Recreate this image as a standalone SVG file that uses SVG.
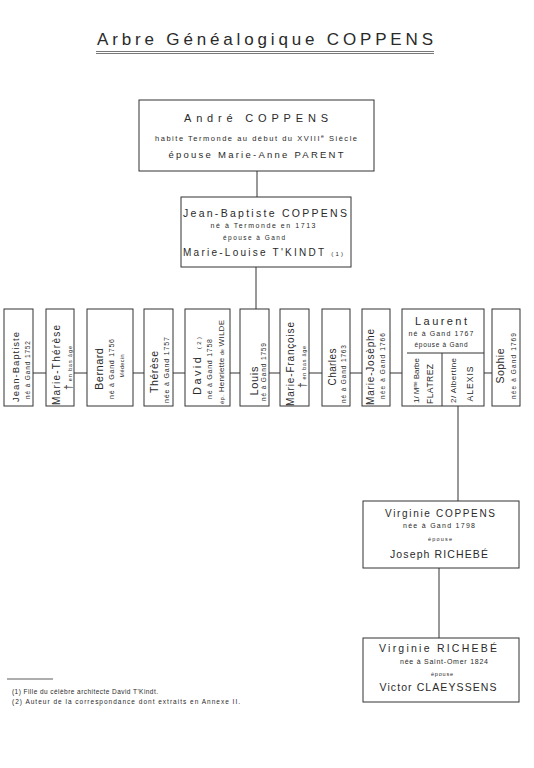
<svg xmlns="http://www.w3.org/2000/svg" width="534" height="768" viewBox="0 0 534 768">
<style>
text{font-family:"Liberation Sans","DejaVu Sans",Arial,sans-serif;fill:#2a2a2a}
.box{fill:#fff;stroke:#333;stroke-width:1}
.ln{stroke:#333;stroke-width:1;fill:none}
.m{text-anchor:middle}
</style>
<rect width="534" height="768" fill="#fff"/>
<g id="title">
<text x="97" y="45" font-size="17" textLength="336" lengthAdjust="spacing">Arbre Généalogique COPPENS</text>
<line x1="96" y1="51.5" x2="434" y2="51.5" stroke="#555" stroke-width="0.8"/>
<line x1="96" y1="53.5" x2="434" y2="53.5" stroke="#555" stroke-width="0.8"/>
</g>
<g id="connectors">
<line class="ln" x1="257" y1="171" x2="257" y2="197"/>
<line class="ln" x1="256" y1="267" x2="256" y2="309"/>
<line class="ln" x1="33" y1="373" x2="46" y2="373"/>
<line class="ln" x1="74" y1="373" x2="87" y2="373"/>
<line class="ln" x1="133" y1="373" x2="144" y2="373"/>
<line class="ln" x1="173" y1="373" x2="185" y2="373"/>
<line class="ln" x1="230" y1="373" x2="240" y2="373"/>
<line class="ln" x1="269" y1="373" x2="280" y2="373"/>
<line class="ln" x1="309" y1="373" x2="322" y2="373"/>
<line class="ln" x1="350" y1="373" x2="362" y2="373"/>
<line class="ln" x1="390" y1="373" x2="402" y2="373"/>
<line class="ln" x1="484" y1="373" x2="492" y2="373"/>
<line class="ln" x1="458" y1="406" x2="458" y2="501"/>
<line class="ln" x1="439" y1="568" x2="439" y2="638"/>
</g>
<g id="andre">
<rect class="box" x="139" y="100" width="235" height="71"/>
<text class="m" x="256" y="122" font-size="11" textLength="144" lengthAdjust="spacing">André COPPENS</text>
<text class="m" x="256" y="141" font-size="7.5" textLength="202" lengthAdjust="spacing">habite Termonde au début du XVIII<tspan font-size="5" dy="-3">e</tspan><tspan dy="3"> Siècle</tspan></text>
<text class="m" x="256" y="158" font-size="9.5" textLength="175" lengthAdjust="spacing">épouse Marie-Anne PARENT</text>
</g>
<g id="jeanbaptiste">
<rect class="box" x="181" y="197" width="170" height="70"/>
<text class="m" x="265" y="217" font-size="10.5" textLength="164" lengthAdjust="spacing">Jean-Baptiste COPPENS</text>
<text class="m" x="263" y="228" font-size="7" textLength="105" lengthAdjust="spacing">né à Termonde en 1713</text>
<text class="m" x="254" y="240" font-size="6.5" textLength="62" lengthAdjust="spacing">épouse à Gand</text>
<text x="183" y="256" font-size="10" textLength="160" lengthAdjust="spacing">Marie-Louise T'KINDT <tspan font-size="6">(1)</tspan></text>
</g>
<g id="c1">
<rect class="box" x="4" y="309" width="29" height="97"/>
<text class="m" transform="translate(19,367) rotate(-90)" font-size="9.5" textLength="70" lengthAdjust="spacing">Jean-Baptiste</text>
<text class="m" transform="translate(30,370) rotate(-90)" font-size="6.5" textLength="58" lengthAdjust="spacing">né à Gand 1752</text>
</g>
<g id="c2">
<rect class="box" x="46" y="309" width="28" height="97"/>
<text class="m" transform="translate(60,365) rotate(-90)" font-size="10" textLength="80" lengthAdjust="spacing">Marie-Thérèse</text>
<text class="m" transform="translate(72,368) rotate(-90)" font-size="5.5" textLength="44" lengthAdjust="spacing"><tspan font-size="10">†</tspan> en bas âge</text>
</g>
<g id="c3">
<rect class="box" x="87" y="309" width="46" height="97"/>
<text class="m" transform="translate(103,369) rotate(-90)" font-size="11" textLength="42" lengthAdjust="spacing">Bernard</text>
<text class="m" transform="translate(114,369) rotate(-90)" font-size="7" textLength="60" lengthAdjust="spacing">né à Gand 1756</text>
<text class="m" transform="translate(124,366) rotate(-90)" font-size="5.5" textLength="23" lengthAdjust="spacing">Médecin</text>
</g>
<g id="c4">
<rect class="box" x="144" y="309" width="29" height="97"/>
<text class="m" transform="translate(158,372) rotate(-90)" font-size="10.5" textLength="42" lengthAdjust="spacing">Thérèse</text>
<text class="m" transform="translate(169,370) rotate(-90)" font-size="7" textLength="66" lengthAdjust="spacing">née à Gand 1757</text>
</g>
<g id="c5">
<rect class="box" x="185" y="309" width="45" height="97"/>
<text class="m" transform="translate(201,366) rotate(-90)" font-size="11" textLength="58" lengthAdjust="spacing">David <tspan font-size="6">(2)</tspan></text>
<text class="m" transform="translate(212,369) rotate(-90)" font-size="7" textLength="60" lengthAdjust="spacing">né à Gand 1758</text>
<text class="m" transform="translate(224,362) rotate(-90)" font-size="8" textLength="84" lengthAdjust="spacing"><tspan font-size="6">ép.</tspan> Henriette <tspan font-size="5">de</tspan> WILDE</text>
</g>
<g id="c6">
<rect class="box" x="240" y="309" width="29" height="97"/>
<text class="m" transform="translate(258,381) rotate(-90)" font-size="11" textLength="29" lengthAdjust="spacing">Louis</text>
<text class="m" transform="translate(266,372) rotate(-90)" font-size="6.5" textLength="58" lengthAdjust="spacing">né à Gand 1759</text>
</g>
<g id="c7">
<rect class="box" x="280" y="309" width="29" height="97"/>
<text class="m" transform="translate(294,364) rotate(-90)" font-size="10" textLength="84" lengthAdjust="spacing">Marie-Françoise</text>
<text class="m" transform="translate(306,367) rotate(-90)" font-size="5.5" textLength="42" lengthAdjust="spacing"><tspan font-size="10">†</tspan> en bas âge</text>
</g>
<g id="c8">
<rect class="box" x="322" y="309" width="28" height="97"/>
<text class="m" transform="translate(336,367) rotate(-90)" font-size="10" textLength="37" lengthAdjust="spacing">Charles</text>
<text class="m" transform="translate(346,374) rotate(-90)" font-size="6.5" textLength="58" lengthAdjust="spacing">né à Gand 1763</text>
</g>
<g id="c9">
<rect class="box" x="362" y="309" width="28" height="97"/>
<text class="m" transform="translate(374,367) rotate(-90)" font-size="10" textLength="76" lengthAdjust="spacing">Marie-Josèphe</text>
<text class="m" transform="translate(385,366) rotate(-90)" font-size="6.5" textLength="66" lengthAdjust="spacing">née à Gand 1766</text>
</g>
<g id="c10">
<rect class="box" x="402" y="309" width="82" height="97"/>
<text class="m" x="441" y="325" font-size="11" textLength="52" lengthAdjust="spacing">Laurent</text>
<text class="m" x="441" y="336" font-size="7" textLength="65" lengthAdjust="spacing">né à Gand 1767</text>
<text class="m" x="441" y="347" font-size="6.5" textLength="53" lengthAdjust="spacing">épouse à Gand</text>
<line class="ln" x1="407" y1="353" x2="484" y2="353"/>
<line class="ln" x1="442" y1="353" x2="442" y2="406"/>
<text transform="translate(419,403) rotate(-90)" font-size="8" textLength="45" lengthAdjust="spacing">1/ M<tspan font-size="4.5" dy="-2.5">me</tspan><tspan dy="2.5"> Barbe</tspan></text>
<text class="m" transform="translate(433,384) rotate(-90)" font-size="8.5" textLength="40" lengthAdjust="spacing">FLATREZ</text>
<text transform="translate(456,403) rotate(-90)" font-size="8" textLength="45" lengthAdjust="spacing">2/ Albertine</text>
<text class="m" transform="translate(473,384) rotate(-90)" font-size="8.5" textLength="35" lengthAdjust="spacing">ALEXIS</text>
</g>
<g id="c11">
<rect class="box" x="492" y="309" width="28" height="97"/>
<text class="m" transform="translate(504,366) rotate(-90)" font-size="10.5" textLength="35" lengthAdjust="spacing">Sophie</text>
<text class="m" transform="translate(516,366) rotate(-90)" font-size="6.5" textLength="66" lengthAdjust="spacing">née à Gand 1769</text>
</g>
<g id="virginie1">
<rect class="box" x="363" y="501" width="156" height="67"/>
<text class="m" x="440" y="517" font-size="10" textLength="110" lengthAdjust="spacing">Virginie COPPENS</text>
<text class="m" x="439" y="528" font-size="7" textLength="72" lengthAdjust="spacing">née à Gand 1798</text>
<text class="m" x="440" y="541" font-size="5.5" textLength="24" lengthAdjust="spacing">épouse</text>
<text class="m" x="439" y="558" font-size="10.5" textLength="98" lengthAdjust="spacing">Joseph RICHEBÉ</text>
</g>
<g id="virginie2">
<rect class="box" x="363" y="638" width="156" height="64"/>
<text class="m" x="438" y="652" font-size="10.5" textLength="118" lengthAdjust="spacing">Virginie RICHEBÉ</text>
<text class="m" x="444" y="664" font-size="7" textLength="88" lengthAdjust="spacing">née à Saint-Omer 1824</text>
<text class="m" x="442" y="676" font-size="5.5" textLength="22" lengthAdjust="spacing">épouse</text>
<text class="m" x="438" y="691" font-size="10.5" textLength="117" lengthAdjust="spacing">Victor CLAEYSSENS</text>
</g>
<g id="footnotes">
<line x1="7" y1="679" x2="53" y2="679" stroke="#333" stroke-width="0.8"/>
<text x="12" y="694" font-size="6.5" textLength="146" lengthAdjust="spacing">(1) Fille du célèbre architecte David T'Kindt.</text>
<text x="12" y="704" font-size="6.5" textLength="228" lengthAdjust="spacing">(2) Auteur de la correspondance dont extraits en Annexe II.</text>
</g>
</svg>
